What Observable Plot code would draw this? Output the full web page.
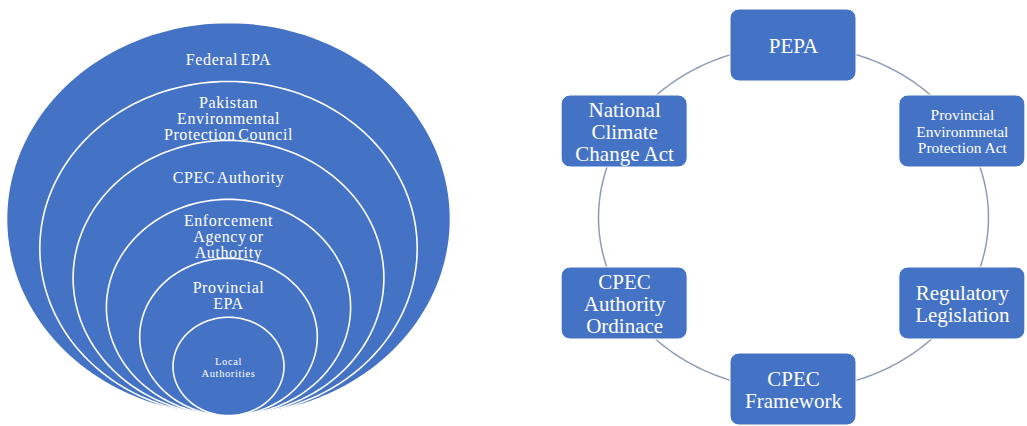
<!DOCTYPE html>
<html>
<head>
<meta charset="utf-8">
<script src="https://cdn.jsdelivr.net/npm/d3@7"></script>
<script src="https://cdn.jsdelivr.net/npm/@observablehq/plot@0.6"></script>
<style>
  html, body { margin: 0; padding: 0; background: #fff; }
  #wrap { display: flex; width: 1027px; height: 426px; overflow: hidden; }
  #wrap svg { display: block; flex: none; }
</style>
</head>
<body>
<div id="wrap"></div>
<script>
// ---- Data ----
// Nested institutional levels (outermost first)
const levels = [
  "Federal EPA",
  "Pakistan\nEnvironmental\nProtection Council",
  "CPEC Authority",
  "Enforcement\nAgency or\nAuthority",
  "Provincial\nEPA",
  "Local\nAuthorities"
];
// Legal instruments, clockwise from the top
const instruments = [
  "PEPA",
  "Provincial\nEnvironmnetal\nProtection Act",
  "Regulatory\nLegislation",
  "CPEC\nFramework",
  "CPEC\nAuthority\nOrdinace",
  "National\nClimate\nChange Act"
];
const smallTextInstruments = ["Provincial\nEnvironmnetal\nProtection Act"];

// ---- Styles ----
const BLUE = "#4472C4";
const LOOP = "#8c9bb5";
const SERIF = "'Liberation Serif', 'Times New Roman', serif";

// ---- Left: nested rings, all tangent at the bottom ----
const ringStep = 0.15;
const rings = levels.map((label, k) => ({label, k, r: 1 - ringStep * k}));
const deg = Math.PI / 180;
const ringPts = rings.flatMap(d =>
  d3.range(0, 360, 2).map(a => ({
    label: d.label,
    x: d.r * Math.cos(a * deg),
    y: -1 + d.r + d.r * Math.sin(a * deg)
  }))
);
const ringLabels = rings.map((d, i) => ({
  label: d.label,
  x: 0,
  y: i < rings.length - 1 ? -1 + d.r + rings[i + 1].r : -1 + d.r,
  inner: i === rings.length - 1
}));

const left = Plot.plot({
  width: 520,
  height: 426,
  margin: 0,
  x: {domain: [-1, 1], range: [6, 450], axis: null},
  y: {domain: [-1, 1], range: [415, 22], axis: null},
  style: {fontFamily: SERIF, letterSpacing: "0.6px", wordSpacing: "-2px", background: "transparent"},
  marks: [
    Plot.line(ringPts, {x: "x", y: "y", z: "label", curve: "linear-closed", fill: BLUE, stroke: "white", strokeWidth: 1.6}),
    Plot.text(ringLabels.filter(d => !d.inner), {x: "x", y: "y", text: "label", fill: "white", fontSize: 16, lineHeight: 0.98, dy: 8}),
    Plot.text(ringLabels.filter(d => d.inner), {x: "x", y: "y", text: "label", fill: "white", fontSize: 10.5, lineHeight: 1.1, dy: 1})
  ]
});

// ---- Right: cycle of instruments ----
const xr = [78, 468];
const yr = [389, 45];
const pxPerX = (xr[1] - xr[0]) / 2;
const pxPerY = (yr[0] - yr[1]) / 2;
const boxW = 126, boxH = 72;
const nodes = instruments.map((label, i) => {
  const a = (90 - 60 * i) * deg;
  return {label, x: Math.cos(a), y: Math.sin(a), small: smallTextInstruments.includes(label)};
});
const loop = d3.range(0, 360, 2).map(a => ({x: Math.cos(a * deg), y: Math.sin(a * deg)}));

const right = Plot.plot({
  width: 507,
  height: 426,
  margin: 0,
  x: {domain: [-1, 1], range: xr, axis: null},
  y: {domain: [-1, 1], range: yr, axis: null},
  style: {fontFamily: SERIF, background: "transparent"},
  marks: [
    Plot.line(loop, {x: "x", y: "y", curve: "linear-closed", stroke: LOOP, strokeWidth: 1.5}),
    Plot.rect(nodes, {
      x1: d => d.x - boxW / 2 / pxPerX,
      x2: d => d.x + boxW / 2 / pxPerX,
      y1: d => d.y - boxH / 2 / pxPerY,
      y2: d => d.y + boxH / 2 / pxPerY,
      fill: BLUE, stroke: "white", strokeWidth: 1, rx: 9
    }),
    Plot.text(nodes.filter(d => !d.small), {x: "x", y: "y", text: "label", fill: "white", fontSize: 21, lineHeight: 1.05}),
    Plot.text(nodes.filter(d => d.small), {x: "x", y: "y", text: "label", fill: "white", fontSize: 15.5, lineHeight: 1.07})
  ]
});

const wrap = document.getElementById("wrap");
wrap.appendChild(left);
wrap.appendChild(right);
</script>
</body>
</html>
